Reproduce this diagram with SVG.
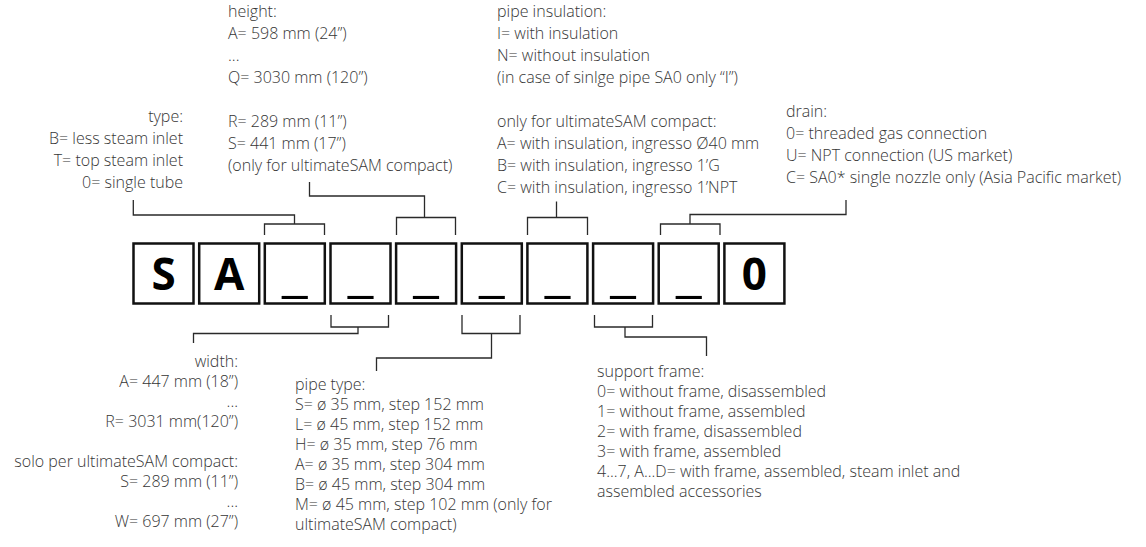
<svg xmlns="http://www.w3.org/2000/svg" width="1146" height="547" viewBox="0 0 1146 547">
<style>
.t{font-family:"Open Sans","Liberation Sans",sans-serif;font-size:16px;font-weight:300;fill:#363636}
.e{text-anchor:end}
.box{fill:#fff;stroke:#111;stroke-width:2.5}
.ch{font-family:"Open Sans","Liberation Sans",sans-serif;font-size:44px;font-weight:700;fill:#000;text-anchor:middle}
.c{fill:none;stroke:#2a2a2a;stroke-width:1.3}
</style>
<rect width="1146" height="547" fill="#fff"/>
<g id="code">
<g id="box1"><rect class="box" x="133.5" y="243.5" width="60" height="60"/><text class="ch" x="163.5" y="290">S</text></g>
<g id="box2"><rect class="box" x="199.2" y="243.5" width="60" height="60"/><text class="ch" x="229.2" y="290">A</text></g>
<g id="box3"><rect class="box" x="264.8" y="243.5" width="60" height="60"/><text class="ch" x="294.8" y="292" textLength="26" lengthAdjust="spacingAndGlyphs">_</text></g>
<g id="box4"><rect class="box" x="330.5" y="243.5" width="60" height="60"/><text class="ch" x="360.5" y="292" textLength="26" lengthAdjust="spacingAndGlyphs">_</text></g>
<g id="box5"><rect class="box" x="396.1" y="243.5" width="60" height="60"/><text class="ch" x="426.1" y="292" textLength="26" lengthAdjust="spacingAndGlyphs">_</text></g>
<g id="box6"><rect class="box" x="461.8" y="243.5" width="60" height="60"/><text class="ch" x="491.8" y="292" textLength="26" lengthAdjust="spacingAndGlyphs">_</text></g>
<g id="box7"><rect class="box" x="527.4" y="243.5" width="60" height="60"/><text class="ch" x="557.4" y="292" textLength="26" lengthAdjust="spacingAndGlyphs">_</text></g>
<g id="box8"><rect class="box" x="593.1" y="243.5" width="60" height="60"/><text class="ch" x="623.1" y="292" textLength="26" lengthAdjust="spacingAndGlyphs">_</text></g>
<g id="box9"><rect class="box" x="658.7" y="243.5" width="60" height="60"/><text class="ch" x="688.7" y="292" textLength="26" lengthAdjust="spacingAndGlyphs">_</text></g>
<g id="box10"><rect class="box" x="724.4" y="243.5" width="60" height="60"/><text class="ch" x="754.4" y="290">0</text></g>
</g>
<g id="connectors">
<path class="c" d="M133.3 200V215H294.5V224M264.5 235V224H324.5V235"/>
<path class="c" d="M309.5 182V196H424.5V217.5M396.5 235V217.5H455.5V235"/>
<path class="c" d="M556.5 201.5V217.5M527.5 235V217.5H587.5V235"/>
<path class="c" d="M846 200V214.5H690V224M660.5 235V224H720V235"/>
<path class="c" d="M331 315V327H388.5V315M358 327V333.5H193.5V343"/>
<path class="c" d="M462 315V333.5H520V315M491.5 333.5V358H376.5V371"/>
<path class="c" d="M594.5 315V327H652.5V315M625 327V337H706.5V356"/>
</g>
<g id="type">
<text class="t e" x="183" y="122">type:</text>
<text class="t e" x="183" y="144">B= less steam inlet</text>
<text class="t e" x="183" y="166">T= top steam inlet</text>
<text class="t e" x="183" y="188">0= single tube</text>
</g>
<g id="height">
<text class="t" x="228" y="17">height:</text>
<text class="t" x="228" y="39">A= 598 mm (24”)</text>
<text class="t" x="228" y="61">...</text>
<text class="t" x="228" y="83">Q= 3030 mm (120”)</text>
<text class="t" x="228" y="127">R= 289 mm (11”)</text>
<text class="t" x="228" y="149">S= 441 mm (17”)</text>
<text class="t" x="228" y="171">(only for ultimateSAM compact)</text>
</g>
<g id="insulation">
<text class="t" x="497" y="17">pipe insulation:</text>
<text class="t" x="497" y="39">I= with insulation</text>
<text class="t" x="497" y="61">N= without insulation</text>
<text class="t" x="497" y="83">(in case of sinlge pipe SA0 only “I”)</text>
<text class="t" x="497" y="127">only for ultimateSAM compact:</text>
<text class="t" x="497" y="149">A= with insulation, ingresso Ø40 mm</text>
<text class="t" x="497" y="171">B= with insulation, ingresso 1’G</text>
<text class="t" x="497" y="193">C= with insulation, ingresso 1’NPT</text>
</g>
<g id="drain">
<text class="t" x="786" y="117">drain:</text>
<text class="t" x="786" y="139">0= threaded gas connection</text>
<text class="t" x="786" y="161">U= NPT connection (US market)</text>
<text class="t" x="786" y="183">C= SA0* single nozzle only (Asia Pacific market)</text>
</g>
<g id="width">
<text class="t e" x="238" y="367">width:</text>
<text class="t e" x="238" y="387">A= 447 mm (18”)</text>
<text class="t e" x="238" y="407">...</text>
<text class="t e" x="238" y="427">R= 3031 mm(120”)</text>
<text class="t e" x="238" y="467">solo per ultimateSAM compact:</text>
<text class="t e" x="238" y="487">S= 289 mm (11”)</text>
<text class="t e" x="238" y="507">...</text>
<text class="t e" x="238" y="527">W= 697 mm (27”)</text>
</g>
<g id="pipetype">
<text class="t" x="295" y="390">pipe type:</text>
<text class="t" x="295" y="410">S= ø 35 mm, step 152 mm</text>
<text class="t" x="295" y="430">L= ø 45 mm, step 152 mm</text>
<text class="t" x="295" y="450">H= ø 35 mm, step 76 mm</text>
<text class="t" x="295" y="470">A= ø 35 mm, step 304 mm</text>
<text class="t" x="295" y="490">B= ø 45 mm, step 304 mm</text>
<text class="t" x="295" y="510">M= ø 45 mm, step 102 mm (only for</text>
<text class="t" x="295" y="530">ultimateSAM compact)</text>
</g>
<g id="frame">
<text class="t" x="597" y="377">support frame:</text>
<text class="t" x="597" y="397">0= without frame, disassembled</text>
<text class="t" x="597" y="417">1= without frame, assembled</text>
<text class="t" x="597" y="437">2= with frame, disassembled</text>
<text class="t" x="597" y="457">3= with frame, assembled</text>
<text class="t" x="597" y="477">4...7, A...D= with frame, assembled, steam inlet and</text>
<text class="t" x="597" y="497">assembled accessories</text>
</g>
</svg>
